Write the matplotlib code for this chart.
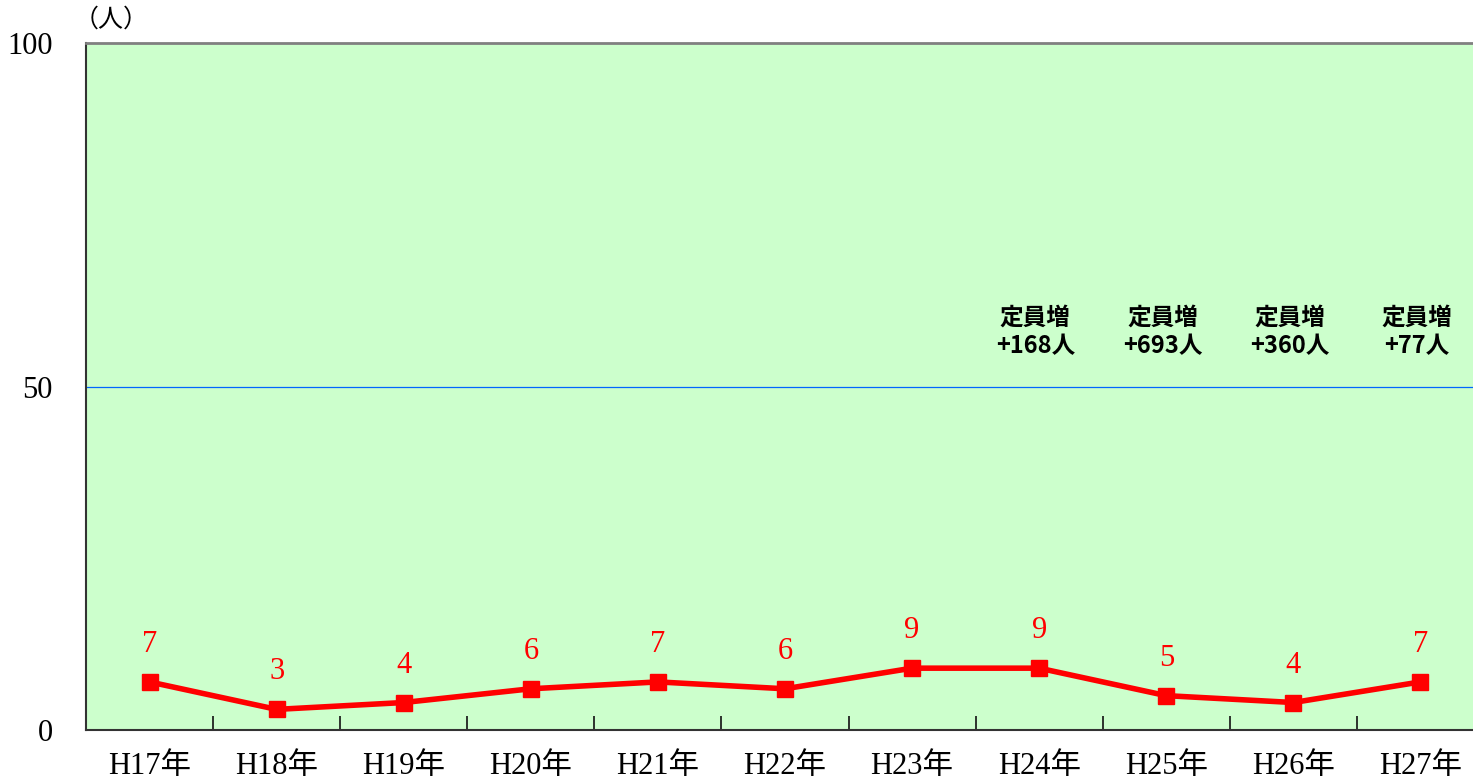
import matplotlib
matplotlib.use("Agg")
import matplotlib.pyplot as plt

plt.rcParams['font.family'] = ['Liberation Serif', 'Noto Sans CJK JP']

years = ['H17年', 'H18年', 'H19年', 'H20年', 'H21年', 'H22年',
         'H23年', 'H24年', 'H25年', 'H26年', 'H27年']
counts = [7, 3, 4, 6, 7, 6, 9, 9, 5, 4, 7]
notes_idx = [7, 8, 9, 10]
notes = ['定員増\n+168人', '定員増\n+693人', '定員増\n+360人', '定員増\n+77人']

fig = plt.figure(figsize=(14.73, 7.8), dpi=100)
# right edge lies a bit past the figure, as in the original
ax = fig.add_axes([86 / 1473, 50 / 780, 1398 / 1473, 687 / 780])
ax.set_facecolor('#CCFFCC')

x = list(range(len(years)))
ax.plot(x, counts, color='#FF0000', lw=4, marker='s', ms=12, zorder=3)
for xi, v in zip(x, counts):
    ax.annotate(str(v), (xi, v), xytext=(0, 27), textcoords='offset points',
                ha='center', va='center', color='#FF0000', fontsize=22)

for i, t in zip(notes_idx, notes):
    ax.text(i - 0.03, 58, t, ha='center', va='center', fontsize=17,
            fontweight='bold', linespacing=1.25,
            family=['Noto Sans CJK JP', 'DejaVu Sans'])

ax.axhline(50, color='#0066FF', lw=0.9, zorder=1)

ax.set_xlim(-0.5, len(years) - 0.5)
ax.set_ylim(0, 100)
ax.set_yticks([0, 50, 100])
ax.set_yticklabels(['0', '50', '100'], fontsize=22)
ax.tick_params(axis='y', length=0, pad=24)

ax.set_xticks(x)
ax.set_xticklabels(years, fontsize=22)
ax.set_xticks([i + 0.5 for i in range(len(years) - 1)], minor=True)
ax.tick_params(axis='x', which='major', length=0, pad=16)
ax.tick_params(axis='x', which='minor', direction='in', length=10,
               width=1.2, color='#111111')

ax.spines['left'].set_color('#333333')
ax.spines['left'].set_linewidth(1.5)
ax.spines['bottom'].set_color('#333333')
ax.spines['bottom'].set_linewidth(1.5)
ax.spines['top'].set_color('#808080')
ax.spines['top'].set_linewidth(2)
ax.spines['right'].set_visible(False)

ax.text(-0.3, 101.5, '（人）', ha='center', va='bottom', fontsize=18,
        family=['Noto Sans CJK JP', 'DejaVu Sans'])

fig.savefig('out.png', dpi=100)
